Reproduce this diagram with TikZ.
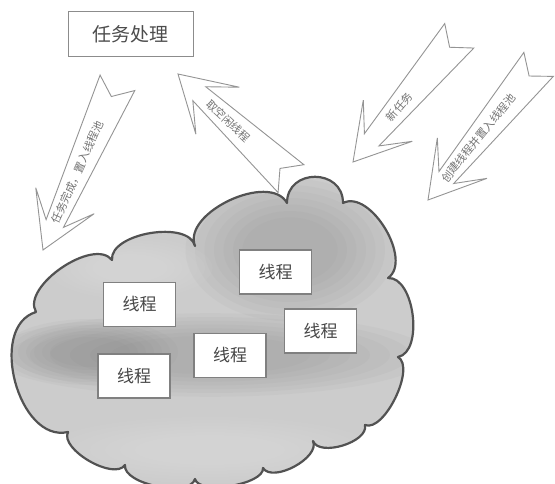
\documentclass[tikz,border=0pt]{standalone}
\usepackage{fontspec}
\newfontfamily\cjk{Noto Sans CJK SC}
\definecolor{cloudbase}{RGB}{204,204,204}
\definecolor{cloudshade}{RGB}{120,120,120}
\definecolor{cloudlite}{RGB}{236,236,236}

% outline of the thread-pool cloud, traced clockwise (y grows upwards, so rows are negative)
\tikzset{lobe/.style={bend left=86, looseness=0.82}}
\newcommand{\cloudoutline}{(36,-312) to[lobe] (112,-260) to[lobe] (195,-246)
  to[lobe, looseness=0.9] (287,-203) to[bend left=90,looseness=1.6] (343,-203)
  to[lobe, looseness=0.9] (388,-278) to[lobe, looseness=0.85] (398,-357) to[lobe, looseness=0.7] (365,-425)
  to[lobe] (313,-441) to[lobe] (263,-468) to[lobe, looseness=0.62] (195,-479)
  to[lobe, looseness=0.7] (125,-465) to[lobe, looseness=0.75] (68,-432) to[bend left=88,looseness=1.05] (36,-312) -- cycle}

% soft patch of shading: centre x, centre y, x radius, y radius, colour
\newcommand{\softpatch}[5]{%
  \foreach \k in {1,...,7} {%
    \fill[#5, opacity=0.05] (#1,#2) ellipse [x radius={#3*(1.2-0.1*\k)}, y radius={#4*(1.2-0.1*\k)}];}}

% hollow block arrow with a notched tail: tip x, tip y, angle towards tail, length, label position, label
\newcommand{\blockarrow}[6]{%
  \begin{scope}[shift={(#1,#2)}, rotate=#3]
    \draw[arrowshape] (0,0) -- (54,32) -- (29,9.5) -- (#4,19) -- ({#4-15},0)
      -- (#4,-19) -- (29,-9.5) -- (54,-32) -- cycle;
    \node[arrowlabel, transform shape] at (#5,0) {#6};
  \end{scope}}

\begin{document}
\begin{tikzpicture}[x=1pt,y=1pt,
  cloudedge/.style={draw=black!68, line width=2.2pt, line join=round},
  threadbox/.style={draw=black!50, line width=1.1pt, fill=white, minimum width=72pt,
    minimum height=44pt, inner sep=0pt, text=black!72, font=\cjk\fontsize{17}{17}\selectfont},
  taskbox/.style={draw=black!45, line width=1pt, fill=white, minimum width=125pt,
    minimum height=45pt, inner sep=0pt, text=black!70, font=\cjk\fontsize{19}{19}\selectfont},
  arrowshape/.style={draw=black!42, line width=0.9pt, fill=white, line join=miter},
  arrowlabel/.style={text=black!55, inner sep=0pt, font=\cjk\fontsize{11}{11}\selectfont},
]
\useasboundingbox (0,0) rectangle (555,-484);
\fill[white] (0,0) rectangle (555,-484);

% cloud body with its darker patches
\begin{scope}
  \clip \cloudoutline;
  \fill[cloudbase] (0,0) rectangle (555,-484);
  \softpatch{290}{-250}{95}{65}{cloudshade}
  \softpatch{210}{-355}{200}{38}{cloudshade}
  \softpatch{90}{-352}{80}{30}{cloudshade}
  \softpatch{210}{-450}{150}{30}{cloudlite}
  \softpatch{130}{-268}{75}{28}{cloudlite}
\end{scope}
\draw[cloudedge] \cloudoutline;

% task box and thread boxes
\node[taskbox] (task) at (130.5,-34.5) {任务处理};
\node[threadbox] (t1) at (139.5,-304.5) {线程};
\node[threadbox] (t2) at (275.5,-272) {线程};
\node[threadbox] (t3) at (320.5,-331) {线程};
\node[threadbox] (t4) at (230,-355.5) {线程};
\node[threadbox] (t5) at (134,-376) {线程};

% block arrows
\blockarrow{43}{-250}{66}{183}{85}{任务完成，置入线程池}
\blockarrow{178}{-74}{-42.8}{154}{69}{取空闲线程}
\blockarrow{353}{-162}{49.9}{165}{72}{新任务}
\blockarrow{428}{-200}{50.8}{175}{80}{创建线程并置入线程池}
\end{tikzpicture}
\end{document}
